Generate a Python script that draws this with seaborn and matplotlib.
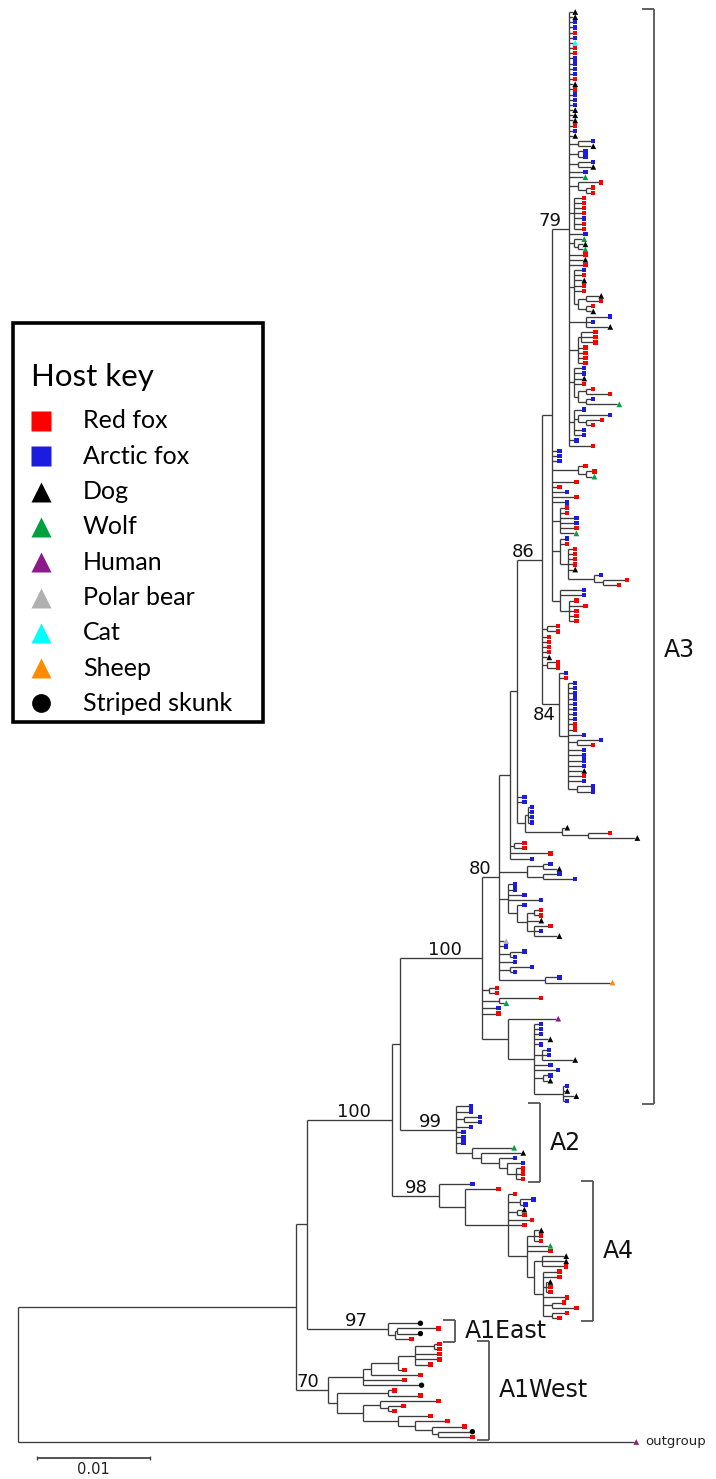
import re
import numpy as np
import pandas as pd
import matplotlib
matplotlib.use("Agg")
import matplotlib.pyplot as plt
from matplotlib.patches import Rectangle
import seaborn as sns

sns.set_theme(style="white")
plt.rcParams["font.family"] = ["DejaVu Sans"]

# ------------------------------------------------------------------ data
HOST_CODES = ["R", "A", "D", "W", "H", "B", "C", "S", "K", "O"]
HOST_NAMES = ["Red fox", "Arctic fox", "Dog", "Wolf", "Human", "Polar bear",
              "Cat", "Sheep", "Striped skunk", "outgroup"]
HOST_COLORS = ["#ff0000", "#1c1ce0", "#000000", "#00a040", "#8b1a8b", "#b0b0b0",
               "#00ffff", "#ff8c00", "#000000", "#8b1a8b"]
HOST_MARKERS = ["s", "s", "^", "^", "^", "^", "^", "^", "o", "^"]
LEGEND_TITLE = "Host key"
N_LEGEND = 9

# Branch lengths in the Newick parts are in units of 1e-4 substitutions/site.
# Internal labels: "support" or "support|clade".
BRANCH_UNIT = 1e-4
SCALE_BAR = 0.01

C79 = ("(D:3,D:3,A:3,A:3,R:3,A:3,C:3,R:3,R:3,A:3,A:3,A:3,A:3,R:3,D:3,R:3,A:3,A:3,A:3,"
       "D:3,D:3,D:3,R:3,A:3,D:3,(A:11,D:11):8,(A:4,A:4):8,(A:11,D:11):8,A:12,W:12,"
       "(R:18,(R:4,R:4):7):8,(R:7,R:7,R:7,R:7,A:7,R:7,R:7):4,A:12,(W:7,(D:4,W:4):4):4,"
       "R:12,D:12,R:12,(A:7,R:7,D:7,R:7,R:7,((D:11,R:11):7,(R:4,D:4):7):4):4,"
       "(A:19,A:4,D:19):15,((R:11,R:11,R:11):2,R:4,R:4,R:4,R:4):8,"
       "(A:7,A:7,D:7,R:7,((R:4,R:19):7,(A:4,W:27):7):4):4,"
       "(A:7,(A:26,(R:12,R:4):7):4,A:7,A:7):4,A:4,R:19)79")
C_S = ("({C79}:15,A:4,A:4,A:4,(R:4,(R:5,W:5):7):23,R:19,R:4,A:11,R:19,A:11,"
       "(R:4,R:4,A:12,A:12,R:12,W:12):7,"
       "(A:4,R:4,(R:4,R:4,R:4,R:4,D:4,(A:4,(R:19,R:12):8):23):7):7,"
       "(A:19,A:19,(R:4,R:12,R:4,R:4,R:4):8):7)")
C84 = ("(A:4,R:4,(A:4,A:4,A:4,A:4,A:4,A:4,A:4,A:4,R:4,R:4,A:12,(A:19,R:12):8,"
       "A:12,A:12,A:12,A:12,D:12,R:12,A:12,(A:12,A:12):8):8)84")
C86 = "({C_S}:9,(R:8,R:8):4,R:4,R:4,R:4,R:4,D:4,(R:8,R:8):4,{C84}:15)86"
C_Q = "({C86}:22,A:4,A:4,((A:2,A:2,A:2,A:2):2,(D:3,(R:18,D:42):23):32):7)"
C_P = "({C_Q}:7,(R:7,R:7):4,R:34,A:18)"
C80 = ("({C_P}:9,((A:4,D:12):15,(A:12,A:26):15):24,"
       "(A:4,A:4,A:12,A:27,(A:4,((R:4,R:4):7,D:11,(R:12,A:4,D:20):7):8):8):8,"
       "B:4,A:4,(A:11,A:3):9,A:12,(A:18,A:3):9,(A:11,S:58):40)80")
A3 = ("({C80}:15,(R:5,R:5):6,(R:35,W:4):15,A:12,R:12,"
      "(H:42,(A:4,A:4,A:4,D:12,A:4,(A:4,A:4,D:27):7,A:12,A:19,(A:4,D:4):8,"
      "(A:2,D:2,D:10,A:2):25):23):23)100|A3")
A2 = ("(A:11,A:11,(A:12,A:12):7,A:11,A:4,A:4,A:4,"
      "(W:35,(D:35,(A:12,(A:12,(R:4,R:4,R:4):8):7):16):8):14)99|A2")
A4 = ("(A:27,(R:27,(R:4,(A:10,A:3):10,(D:4,R:4):8,R:19,R:12,((D:4,R:4,R:4):7,W:19,R:19,"
      "((D:19,D:19,R:19):7,(R:12,R:12,(D:2,R:2,R:2):2,R:19,(R:8,R:19):8,(R:11,R:4):8):8):7)"
      ":16):38):23)98|A4")
A1E = "(K:27,((R:35,K:19):1,R:12):7)97|A1East"
A1W = ("((((((R:3,R:3):17,R:20,R:20,R:12):15,R:4):24,R:42):7,R:35,K:50):31,"
       "((R:4,R:27):45,((R:50,(R:12,R:4):7):15,"
       "(R:27,(R:27,(R:27,(K:28,R:28):6):15):15):31):23):8)70|A1West")
Z2 = "({A3}:73,{A2}:50)"
ZZ = "({Z2}:7,{A4}:42)100"
X_NODE = "({ZZ}:75,{A1E}:71)"
INGROUP = "({X_NODE}:10,{A1W}:28)"
ROOT = "({INGROUP}:246,O:545)"

CLADE_NAMES = ["A3", "A2", "A4", "A1East", "A1West"]
CLADE_LABEL_FRAC = [0.585, 0.5, 0.5, 0.5, 0.5]
SUPPORT_BELOW = ["84"]
OUTGROUP_LABEL = "outgroup"

PARTS = dict(C79=C79, C_S=C_S, C84=C84, C86=C86, C_Q=C_Q, C_P=C_P, C80=C80, A3=A3,
             A2=A2, A4=A4, A1E=A1E, A1W=A1W, Z2=Z2, ZZ=ZZ, X_NODE=X_NODE,
             INGROUP=INGROUP)

# ------------------------------------------------------------------ layout constants
W_PX, H_PX = 716, 1479
ROOT_PX = 18.0          # pixel x of the root
PX_PER_SUB = 11300.0    # pixels per substitution/site
TOP_TIP_PX, LAST_TIP_PX = 12.0, 1442.0


def expand(s):
    while "{" in s:
        s = re.sub(r"\{(\w+)\}", lambda m: PARTS[m.group(1)], s)
    return s


def parse_newick(s):
    pos = 0

    def node():
        nonlocal pos
        nd = {"children": [], "name": "", "length": 0.0}
        if s[pos] == "(":
            pos += 1
            while True:
                nd["children"].append(node())
                if s[pos] == ",":
                    pos += 1
                    continue
                if s[pos] == ")":
                    pos += 1
                    break
        m = re.match(r"[^:,()]*", s[pos:])
        nd["name"] = m.group(0)
        pos += len(nd["name"])
        if pos < len(s) and s[pos] == ":":
            pos += 1
            m = re.match(r"[0-9.eE+-]+", s[pos:])
            nd["length"] = float(m.group(0)) * BRANCH_UNIT
            pos += len(m.group(0))
        return nd

    return node()


tree = parse_newick(expand(ROOT))
tips, hsegs, vsegs, internals = [], [], [], []


def layout(nd, parent_x):
    nd["x"] = parent_x + nd["length"]
    nd["px"] = parent_x
    if not nd["children"]:
        nd["y"] = len(tips)
        tips.append(nd)
        nd["tips"] = [nd]
    else:
        nd["tips"] = []
        for c in nd["children"]:
            layout(c, nd["x"])
            nd["tips"] += c["tips"]
        nd["y"] = (nd["children"][0]["y"] + nd["children"][-1]["y"]) / 2.0
        vsegs.append((nd["x"], nd["children"][0]["y"], nd["children"][-1]["y"]))
        internals.append(nd)


layout(tree, 0.0)


def collect(nd):
    if nd is not tree:
        hsegs.append((nd["y"], nd["px"], nd["x"]))
    for c in nd["children"]:
        collect(c)


collect(tree)

N = len(tips)
sp = (LAST_TIP_PX - TOP_TIP_PX) / (N - 1)    # pixels per tip row
XPX = 1.0 / PX_PER_SUB                       # data x per pixel
YPX = 1.0 / sp                               # data y per pixel

# ------------------------------------------------------------------ figure
fig = plt.figure(figsize=(W_PX / 100, H_PX / 100), dpi=100)
ax = fig.add_axes([0, 0, 1, 1])
ax.set_xlim(-ROOT_PX * XPX, (W_PX - ROOT_PX) * XPX)
ax.set_ylim((H_PX - TOP_TIP_PX) * YPX, -TOP_TIP_PX * YPX)
ax.axis("off")

line_col = "#3c3c3c"
ax.hlines([h[0] for h in hsegs], [h[1] for h in hsegs], [h[2] for h in hsegs],
          color=line_col, lw=0.95)
ax.vlines([v[0] for v in vsegs], [v[1] for v in vsegs], [v[2] for v in vsegs],
          color=line_col, lw=0.95)

code2name = dict(zip(HOST_CODES, HOST_NAMES))
tip_df = pd.DataFrame({
    "x": [t["x"] + 2.4 * XPX for t in tips],
    "y": [t["y"] for t in tips],
    "host": [code2name[t["name"]] for t in tips],
})
palette = dict(zip(HOST_NAMES, HOST_COLORS))
markers = dict(zip(HOST_NAMES, HOST_MARKERS))
sizes = {n: (9.5 if m == "s" else (15 if m == "o" else 17))
         for n, m in zip(HOST_NAMES, HOST_MARKERS)}
sns.scatterplot(data=tip_df, x="x", y="y", hue="host", style="host", size="host",
                palette=palette, markers=markers, sizes=sizes, linewidth=0,
                legend=False, ax=ax, zorder=3)

# outgroup label
og = [t for t in tips if t["name"] == "O"][0]
ax.text(og["x"] + 11 * XPX, og["y"], OUTGROUP_LABEL, fontsize=9.5, va="center",
        ha="left", color="#222222")

# support values and clade brackets
for nd in internals:
    if not nd["name"]:
        continue
    parts = nd["name"].split("|")
    sup = parts[0]
    blen_px = (nd["x"] - nd["px"]) / XPX
    off = max(8.0, 0.25 * blen_px) * XPX
    if sup in SUPPORT_BELOW:
        ax.text(nd["x"] - off + 4 * XPX, nd["y"] + 2 * YPX, sup, ha="right", va="top",
                fontsize=13, color="#111111")
    else:
        ax.text(nd["x"] - off, nd["y"] - 3 * YPX, sup, ha="right", va="baseline",
                fontsize=13, color="#111111")
    if len(parts) > 1:
        cname = parts[1]
        frac = CLADE_LABEL_FRAC[CLADE_NAMES.index(cname)]
        ys = [t["y"] for t in nd["tips"]]
        xmax = max(t["x"] for t in nd["tips"])
        bx = xmax + 19 * XPX
        y0 = min(ys) - 3 * YPX
        y1 = max(ys) + 3 * YPX
        bcol = "#555555"
        ax.vlines(bx, y0, y1, color=bcol, lw=1.3)
        ax.hlines([y0, y1], bx - 12 * XPX, bx, color=bcol, lw=1.3)
        ax.text(bx + 10 * XPX, y0 + frac * (y1 - y0), cname, ha="left", va="center",
                fontsize=17, color="#111111")

# scale bar
sb_x0 = (37 - ROOT_PX) * XPX
sb_y = (N - 1) + 16 * YPX
ax.hlines(sb_y, sb_x0, sb_x0 + SCALE_BAR, color="#444444", lw=1.3)
ax.vlines([sb_x0, sb_x0 + SCALE_BAR], sb_y - 1.8 * YPX, sb_y + 1.8 * YPX,
          color="#444444", lw=1.0)
ax.text(sb_x0 + SCALE_BAR / 2, sb_y + 4 * YPX, f"{SCALE_BAR:g}", ha="center", va="top",
        fontsize=10.5, color="#222222")

# ------------------------------------------------------------------ legend (pixel overlay)
oax = fig.add_axes([0, 0, 1, 1], facecolor="none")
oax.set_xlim(0, W_PX)
oax.set_ylim(H_PX, 0)
oax.axis("off")
oax.add_patch(Rectangle((13, 323), 250, 399, fill=False, lw=2.6, edgecolor="black"))
oax.text(31, 377, LEGEND_TITLE, fontsize=22.5, family=["Lato", "DejaVu Sans"],
         va="center", ha="left", color="black")
row0, drow = 421, 35.3
for i in range(N_LEGEND):
    yy = row0 + i * drow
    m = HOST_MARKERS[i]
    ms = 14.5 if m != "o" else 13.5
    oax.plot([41], [yy], marker=m, ms=ms, color=HOST_COLORS[i], mec="none", ls="none")
    oax.text(83, yy, HOST_NAMES[i], fontsize=18, family=["Lato", "DejaVu Sans"],
             va="center", ha="left", color="black")

fig.savefig("out.png", dpi=100)
